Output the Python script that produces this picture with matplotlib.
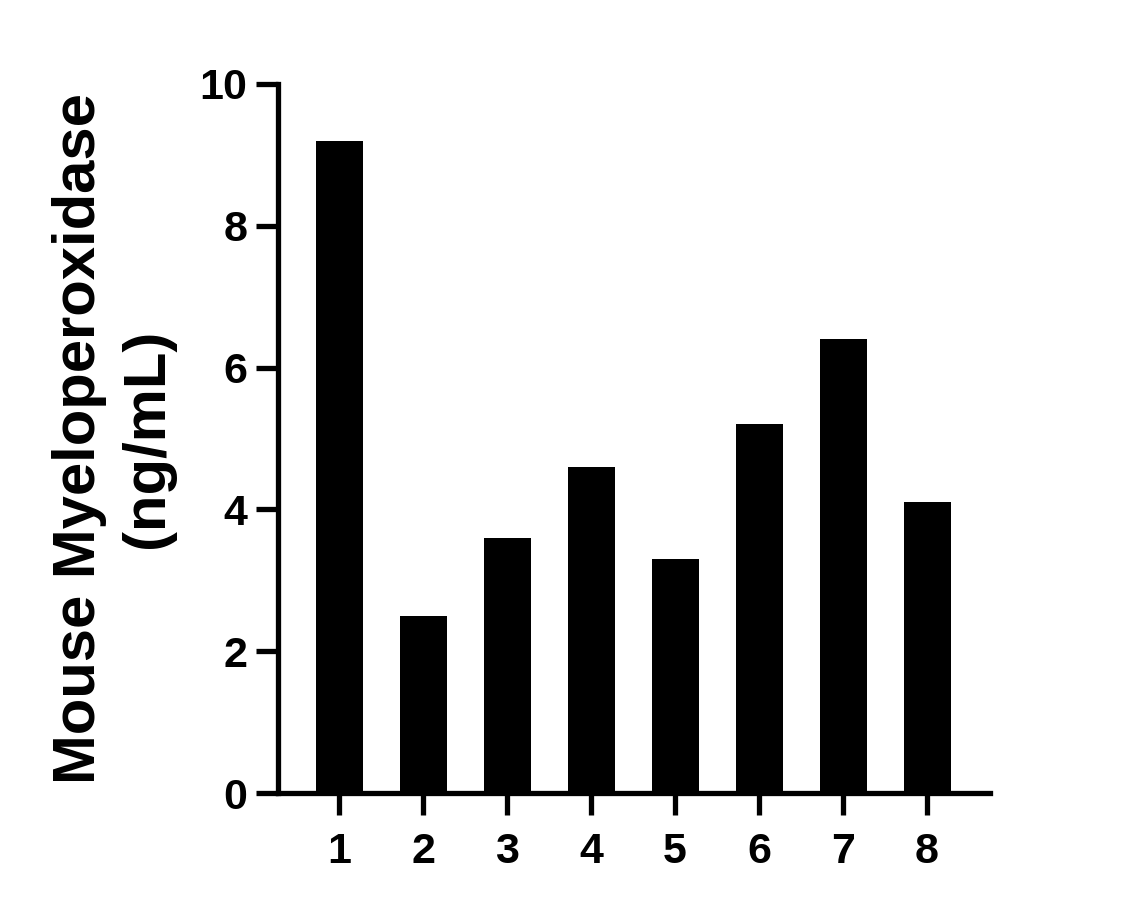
import matplotlib
matplotlib.use("Agg")
import matplotlib.pyplot as plt

# sample numbers and measured concentrations
samples = [1, 2, 3, 4, 5, 6, 7, 8]
mpo_ngml = [9.2, 2.5, 3.6, 4.6, 3.3, 5.2, 6.4, 4.1]
yticks = [0, 2, 4, 6, 8, 10]

plt.rcParams['font.family'] = ['Liberation Sans', 'DejaVu Sans']
plt.rcParams['font.weight'] = 'bold'

fig = plt.figure(figsize=(11.26, 9.09), dpi=100)
ax = fig.add_axes([0.2469, 0.1276, 0.6323, 0.78])

ax.bar(samples, mpo_ngml, width=0.56, color='black')

ax.set_xlim(0.27, 8.75)
ax.set_ylim(0, 10)
ax.set_xticks(samples)
ax.set_yticks(yticks)

for side in ['top', 'right']:
    ax.spines[side].set_visible(False)
for side in ['left', 'bottom']:
    ax.spines[side].set_linewidth(3.8)
ax.spines['left'].set_bounds(0, 10)

ax.tick_params(axis='both', width=3.8, length=16, labelsize=31)
ax.tick_params(axis='x', pad=12)
ax.tick_params(axis='y', pad=6)
for lab in ax.get_xticklabels() + ax.get_yticklabels():
    lab.set_fontweight('bold')

ax.set_ylabel('Mouse Myeloperoxidase\n(ng/mL)', fontsize=43, fontweight='bold',
              linespacing=1.3, labelpad=18)

fig.savefig('out.png', dpi=100)
